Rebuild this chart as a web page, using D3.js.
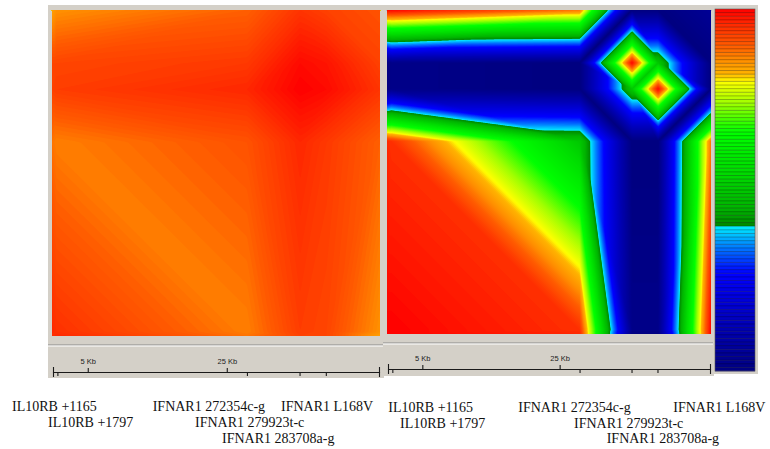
<!DOCTYPE html>
<html><head><meta charset="utf-8">
<script src="https://cdn.jsdelivr.net/npm/d3@7"></script>
<style>body{margin:0;background:#fff}svg{display:block}</style>
</head><body>
<svg id="chart" width="770" height="449"></svg>
<script>
// ---------------- data ----------------
const snpNames = ["IL10RB +1165","IL10RB +1797","IFNAR1 272354c-g","IFNAR1 279923t-c","IFNAR1 283708a-g","IFNAR1 L168V"];
const snpKb = [0, 0.632, 27.9, 35.47, 39.25, 46.9];   // relative position (kb)
const scaleTicksKb = [5, 25];
// pairwise LD matrices (symmetric, diagonal as drawn)
const leftLD = [
  [0.95, 0.96, 0.88, 0.93, 0.925, 0.84],
  [0.96, 0.95, 0.87, 0.935, 0.925, 0.855],
  [0.88, 0.87, 0.91, 0.96, 0.94, 0.895],
  [0.93, 0.935, 0.96, 1.00, 0.99, 0.945],
  [0.925, 0.925, 0.94, 0.99, 0.98, 0.93],
  [0.84, 0.855, 0.895, 0.945, 0.93, 0.91]
];
const rightLD = [
  [1.00, 1.00, 0.96, 0.00, 0.00, 1.00],
  [1.00, 1.00, 0.95, 0.02, 0.02, 1.00],
  [0.96, 0.95, 0.50, 0.00, 0.00, 0.88],
  [0.00, 0.02, 0.00, 0.50, 1.00, 0.00],
  [0.00, 0.02, 0.00, 1.00, 0.50, 0.00],
  [1.00, 1.00, 0.88, 0.00, 0.00, 0.05]
];
// colour scale stops
const colorStops = [0, 0.12, 0.27, 0.34, 0.399, 0.401, 0.45, 0.55, 0.66, 0.74, 0.80, 0.82, 0.86, 0.90, 0.95, 1];
const colorHex   = ["#000080","#0000b4","#0000ff","#0078ff","#00f0ff","#008800","#00b400","#00dc00","#00ff00","#a0ff00","#ffff00","#ffb400","#ff8c00","#ff5a00","#ff3000","#ff0000"];
const legendSteps = 100;

// ---------------- layout ----------------
const GRAY = "#d4d0c8";
const panels = [
  {M: leftLD,  box:[48,5,384,378], x0:52, x1:380, y0:10, y1:336, sepY:345, axisY:372,
   labelX:[12,48,152.7,195,222,281], labelY:[411,427,442.7]},
  {M: rightLD, box:[383,5,714,376], x0:387, x1:711, y0:10, y1:334, sepY:343, axisY:369,
   labelX:[388.3,400,518.3,574,606.7,673.3], labelY:[411.7,427.7,443.3]}
];
const labelRow = [0,1,0,1,2,0];
const legendBox = [713,5,758,374], legendBar = [715,9,755,371];

const color = d3.scaleLinear().domain(colorStops).range(colorHex).clamp(true);
const svg = d3.select("#chart");

function cellIndex(u){ return Math.max(0, Math.min(snpKb.length-2, d3.bisectRight(snpKb, u)-1)); }
function interp(M,u,v){
  const i = cellIndex(u), j = cellIndex(v);
  const s = Math.max(0,Math.min(1,(u-snpKb[i])/(snpKb[i+1]-snpKb[i])));
  const t = Math.max(0,Math.min(1,(v-snpKb[j])/(snpKb[j+1]-snpKb[j])));
  const v00=M[i][j], v10=M[i+1][j], v01=M[i][j+1], v11=M[i+1][j+1];
  const mA=Math.max(v00,v11), mB=Math.max(v01,v10);
  const slash = mA<mB || (mA===mB && v00+v11<=v01+v10);
  if (slash){
    return s>=t ? v00+(v10-v00)*s+(v11-v10)*t : v00+(v01-v00)*t+(v11-v01)*s;
  } else {
    return s+t<=1 ? v00+(v10-v00)*s+(v01-v00)*t : v11+(v01-v11)*(1-s)+(v10-v11)*(1-t);
  }
}

const levels = 200;
const thresholds = d3.range(levels).map(k=>k/levels);

panels.forEach(P=>{
  const [bx0,by0,bx1,by1]=P.box;
  svg.append("rect").attr("x",bx0).attr("y",by0).attr("width",bx1-bx0).attr("height",by1-by0).attr("fill",GRAY);
  const W = P.x1-P.x0, H = P.y1-P.y0;
  const xs = d3.scaleLinear().domain([snpKb[0], snpKb[snpKb.length-1]]).range([0,W]);
  const ys = d3.scaleLinear().domain([snpKb[0], snpKb[snpKb.length-1]]).range([H,0]);
  const values = new Float64Array(W*H);
  for (let py=0; py<H; py++){
    const v = ys.invert(py+0.5);
    for (let px=0; px<W; px++){
      values[py*W+px] = interp(P.M, xs.invert(px+0.5), v);
    }
  }
  const cs = d3.contours().size([W,H]).thresholds(thresholds)(values);
  const g = svg.append("g").attr("transform",`translate(${P.x0},${P.y0})`);
  g.selectAll("path").data(cs).join("path")
    .attr("d", d3.geoPath())
    .attr("fill", d=>color(d.value+0.5/levels));
  // separator
  svg.append("line").attr("x1",bx0).attr("x2",bx1).attr("y1",P.sepY).attr("y2",P.sepY).attr("stroke","#8a8a8a");
  svg.append("line").attr("x1",bx0).attr("x2",bx1).attr("y1",P.sepY+1).attr("y2",P.sepY+1).attr("stroke","#ffffff");
  // axis
  const ax = d3.scaleLinear().domain([snpKb[0], snpKb[snpKb.length-1]]).range([P.x0+1,P.x1-1]);
  const gb = svg.append("g").attr("transform",`translate(0,${P.axisY})`)
    .call(d3.axisBottom(ax).tickValues(snpKb.slice(1,snpKb.length-1)).tickFormat("").tickSizeInner(4).tickSizeOuter(5));
  const gt = svg.append("g").attr("transform",`translate(0,${P.axisY})`)
    .call(d3.axisTop(ax).tickValues(scaleTicksKb).tickFormat(d=>d+" Kb").tickSizeInner(4).tickSizeOuter(5).tickPadding(4));
  [gb,gt].forEach(a=>{a.selectAll("path,line").attr("stroke","#1a1a1a").attr("stroke-width",1.1);});
  gt.selectAll("text").attr("font-family","Liberation Sans, Arial, sans-serif").attr("font-size","7.5px").attr("fill","#222");
  // SNP labels
  svg.append("g").selectAll("text").data(snpNames).join("text")
    .attr("x",(d,i)=>P.labelX[i]).attr("y",(d,i)=>P.labelY[labelRow[i]])
    .attr("font-family","Liberation Serif, Times New Roman, serif").attr("font-size","14px").attr("fill","#111")
    .text(d=>d);
});

// legend
svg.append("rect").attr("x",legendBox[0]).attr("y",legendBox[1]).attr("width",legendBox[2]-legendBox[0]).attr("height",legendBox[3]-legendBox[1]).attr("fill",GRAY);
const ly = d3.scaleLinear().domain([1,0]).range([legendBar[1],legendBar[3]]);
const steps = d3.range(legendSteps).map(k=>1-k/legendSteps);
const lg = svg.append("g");
lg.selectAll("rect").data(steps).join("rect")
  .attr("x",legendBar[0]).attr("width",legendBar[2]-legendBar[0])
  .attr("y",d=>ly(d)).attr("height",d=>ly(d-1/legendSteps)-ly(d)+0.3)
  .attr("fill",d=>color(d-0.5/legendSteps));
lg.selectAll("line").data(steps.slice(1)).join("line")
  .attr("x1",legendBar[0]).attr("x2",legendBar[2]).attr("y1",d=>ly(d)).attr("y2",d=>ly(d))
  .attr("stroke","#000").attr("stroke-opacity",0.35).attr("stroke-width",0.8);
lg.append("rect").attr("x",legendBar[0]).attr("y",legendBar[1]).attr("width",legendBar[2]-legendBar[0]).attr("height",legendBar[3]-legendBar[1])
  .attr("fill","none").attr("stroke","#555").attr("stroke-width",0.6);
</script>
</body></html>
